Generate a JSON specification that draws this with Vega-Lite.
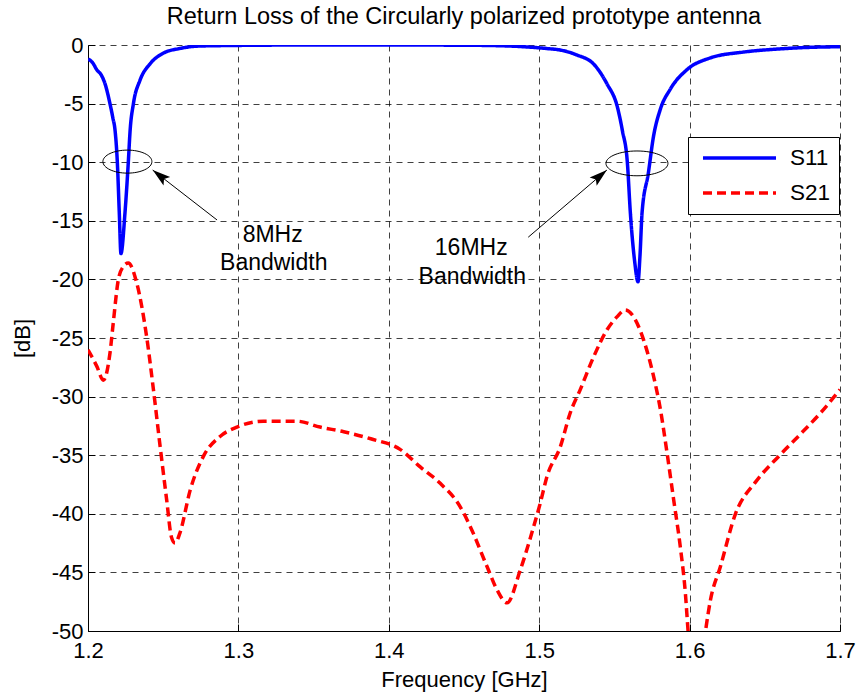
{
  "$schema": "https://vega.github.io/schema/vega-lite/v6.json",
  "width": 752,
  "height": 586,
  "autosize": {"type": "none"},
  "padding": {"left": 88, "top": 45, "right": 20, "bottom": 67},
  "background": "white",
  "title": {
    "text": "Return Loss of the Circularly polarized prototype antenna",
    "font": "Liberation Sans",
    "fontSize": 23.5,
    "fontWeight": "normal",
    "color": "#000",
    "anchor": "middle",
    "offset": 6
  },
  "config": {
    "view": {"stroke": null},
    "axis": {
      "labelFont": "Liberation Sans",
      "titleFont": "Liberation Sans",
      "labelFontSize": 22,
      "titleFontSize": 22,
      "titleFontWeight": "normal",
      "labelColor": "#000",
      "titleColor": "#000",
      "domainColor": "#000",
      "domainWidth": 1,
      "tickColor": "#000",
      "tickSize": -7,
      "grid": true,
      "gridColor": "#000",
      "gridOpacity": 0.75,
      "gridDash": [6, 5],
      "gridWidth": 1,
      "labelFlush": false,
      "labelOverlap": false
    }
  },
  "datasets": {
    "curves": [
      {"f": 1.2, "v": -1.2, "s": "S11"},
      {"f": 1.203, "v": -1.5, "s": "S11"},
      {"f": 1.2058, "v": -2.1, "s": "S11"},
      {"f": 1.209, "v": -2.6, "s": "S11"},
      {"f": 1.2113, "v": -3.3, "s": "S11"},
      {"f": 1.2146, "v": -5.0, "s": "S11"},
      {"f": 1.2165, "v": -6.2, "s": "S11"},
      {"f": 1.218, "v": -7.3, "s": "S11"},
      {"f": 1.2195, "v": -10.0, "s": "S11"},
      {"f": 1.2208, "v": -14.3, "s": "S11"},
      {"f": 1.2219, "v": -17.8, "s": "S11"},
      {"f": 1.2246, "v": -14.3, "s": "S11"},
      {"f": 1.2268, "v": -10.0, "s": "S11"},
      {"f": 1.228, "v": -7.3, "s": "S11"},
      {"f": 1.2302, "v": -5.0, "s": "S11"},
      {"f": 1.2346, "v": -3.0, "s": "S11"},
      {"f": 1.2413, "v": -1.6, "s": "S11"},
      {"f": 1.25, "v": -0.7, "s": "S11"},
      {"f": 1.261, "v": -0.3, "s": "S11"},
      {"f": 1.2725, "v": -0.1, "s": "S11"},
      {"f": 1.29, "v": -0.05, "s": "S11"},
      {"f": 1.35, "v": 0.0, "s": "S11"},
      {"f": 1.4, "v": 0.0, "s": "S11"},
      {"f": 1.45, "v": -0.02, "s": "S11"},
      {"f": 1.47, "v": -0.05, "s": "S11"},
      {"f": 1.49, "v": -0.15, "s": "S11"},
      {"f": 1.505, "v": -0.3, "s": "S11"},
      {"f": 1.514, "v": -0.43, "s": "S11"},
      {"f": 1.525, "v": -0.85, "s": "S11"},
      {"f": 1.536, "v": -1.6, "s": "S11"},
      {"f": 1.545, "v": -3.3, "s": "S11"},
      {"f": 1.552, "v": -5.3, "s": "S11"},
      {"f": 1.5553, "v": -7.3, "s": "S11"},
      {"f": 1.5586, "v": -10.0, "s": "S11"},
      {"f": 1.5606, "v": -14.3, "s": "S11"},
      {"f": 1.5635, "v": -18.5, "s": "S11"},
      {"f": 1.5657, "v": -20.2, "s": "S11"},
      {"f": 1.567, "v": -18.0, "s": "S11"},
      {"f": 1.5684, "v": -14.3, "s": "S11"},
      {"f": 1.5726, "v": -10.9, "s": "S11"},
      {"f": 1.576, "v": -7.8, "s": "S11"},
      {"f": 1.5805, "v": -5.5, "s": "S11"},
      {"f": 1.587, "v": -3.8, "s": "S11"},
      {"f": 1.5983, "v": -2.1, "s": "S11"},
      {"f": 1.6138, "v": -1.1, "s": "S11"},
      {"f": 1.636, "v": -0.6, "s": "S11"},
      {"f": 1.658, "v": -0.35, "s": "S11"},
      {"f": 1.68, "v": -0.2, "s": "S11"},
      {"f": 1.7, "v": -0.15, "s": "S11"},
      {"f": 1.2, "v": -26.0, "s": "S21"},
      {"f": 1.2058, "v": -27.4, "s": "S21"},
      {"f": 1.2102, "v": -28.6, "s": "S21"},
      {"f": 1.2146, "v": -26.3, "s": "S21"},
      {"f": 1.2168, "v": -23.7, "s": "S21"},
      {"f": 1.2202, "v": -20.0, "s": "S21"},
      {"f": 1.2235, "v": -18.9, "s": "S21"},
      {"f": 1.2268, "v": -18.6, "s": "S21"},
      {"f": 1.2324, "v": -20.3, "s": "S21"},
      {"f": 1.239, "v": -24.9, "s": "S21"},
      {"f": 1.2435, "v": -29.4, "s": "S21"},
      {"f": 1.248, "v": -34.3, "s": "S21"},
      {"f": 1.2523, "v": -38.8, "s": "S21"},
      {"f": 1.2555, "v": -42.0, "s": "S21"},
      {"f": 1.2579, "v": -42.5, "s": "S21"},
      {"f": 1.2612, "v": -41.6, "s": "S21"},
      {"f": 1.2679, "v": -38.0, "s": "S21"},
      {"f": 1.2767, "v": -35.1, "s": "S21"},
      {"f": 1.2878, "v": -33.4, "s": "S21"},
      {"f": 1.299, "v": -32.6, "s": "S21"},
      {"f": 1.3166, "v": -32.1, "s": "S21"},
      {"f": 1.3389, "v": -32.1, "s": "S21"},
      {"f": 1.3543, "v": -32.6, "s": "S21"},
      {"f": 1.37, "v": -33.0, "s": "S21"},
      {"f": 1.388, "v": -33.6, "s": "S21"},
      {"f": 1.4075, "v": -34.5, "s": "S21"},
      {"f": 1.4209, "v": -36.0, "s": "S21"},
      {"f": 1.4342, "v": -37.4, "s": "S21"},
      {"f": 1.4475, "v": -39.4, "s": "S21"},
      {"f": 1.4542, "v": -41.1, "s": "S21"},
      {"f": 1.4653, "v": -44.5, "s": "S21"},
      {"f": 1.472, "v": -46.5, "s": "S21"},
      {"f": 1.4786, "v": -47.6, "s": "S21"},
      {"f": 1.4874, "v": -44.8, "s": "S21"},
      {"f": 1.4963, "v": -41.1, "s": "S21"},
      {"f": 1.5007, "v": -39.1, "s": "S21"},
      {"f": 1.5052, "v": -36.8, "s": "S21"},
      {"f": 1.514, "v": -34.3, "s": "S21"},
      {"f": 1.5206, "v": -31.4, "s": "S21"},
      {"f": 1.5273, "v": -29.4, "s": "S21"},
      {"f": 1.5362, "v": -26.6, "s": "S21"},
      {"f": 1.5451, "v": -24.3, "s": "S21"},
      {"f": 1.5517, "v": -23.2, "s": "S21"},
      {"f": 1.5573, "v": -22.6, "s": "S21"},
      {"f": 1.5628, "v": -23.2, "s": "S21"},
      {"f": 1.5695, "v": -25.2, "s": "S21"},
      {"f": 1.5761, "v": -28.3, "s": "S21"},
      {"f": 1.5806, "v": -31.1, "s": "S21"},
      {"f": 1.585, "v": -34.8, "s": "S21"},
      {"f": 1.5894, "v": -38.8, "s": "S21"},
      {"f": 1.5938, "v": -42.8, "s": "S21"},
      {"f": 1.5972, "v": -46.8, "s": "S21"},
      {"f": 1.599, "v": -50.0, "s": "S21"},
      {"f": 1.605, "v": -56.0, "s": "S21"},
      {"f": 1.6106, "v": -50.0, "s": "S21"},
      {"f": 1.6138, "v": -47.4, "s": "S21"},
      {"f": 1.6205, "v": -44.5, "s": "S21"},
      {"f": 1.6305, "v": -40.0, "s": "S21"},
      {"f": 1.6438, "v": -37.3, "s": "S21"},
      {"f": 1.66, "v": -35.0, "s": "S21"},
      {"f": 1.6737, "v": -33.2, "s": "S21"},
      {"f": 1.687, "v": -31.4, "s": "S21"},
      {"f": 1.7, "v": -29.4, "s": "S21"}
    ],
    "labels": [
      {"t": "8MHz", "f": 1.3228, "v": -16.2},
      {"t": "Bandwidth", "f": 1.3235, "v": -18.6},
      {"t": "16MHz", "f": 1.4548, "v": -17.3},
      {"t": "Bandwidth", "f": 1.4555, "v": -19.8}
    ],
    "arrows": [
      {"f": 1.2858, "v": -14.93, "f2": 1.243, "v2": -10.67},
      {"f": 1.4927, "v": -16.4, "f2": 1.545, "v2": -10.67}
    ]
  },
  "layer": [
    {
      "data": {"name": "curves"},
      "mark": {"type": "line", "strokeWidth": 3.5, "clip": true, "interpolate": "monotone"},
      "encoding": {
        "x": {
          "field": "f", "type": "quantitative",
          "scale": {"domain": [1.2, 1.7], "nice": false, "zero": false},
          "axis": {
            "title": "Frequency [GHz]",
            "values": [1.2, 1.3, 1.4, 1.5, 1.6, 1.7],
            "format": ".1f",
            "labelPadding": 16,
            "titlePadding": 8
          }
        },
        "y": {
          "field": "v", "type": "quantitative",
          "scale": {"domain": [-50, 0], "nice": false, "zero": false},
          "axis": {
            "title": "[dB]",
            "values": [-50, -45, -40, -35, -30, -25, -20, -15, -10, -5, 0],
            "labelExpr": "datum.value == 0 ? '0' : '-' + abs(datum.value)",
            "labelPadding": 12,
            "titlePadding": 17
          }
        },
        "color": {
          "field": "s", "type": "nominal",
          "scale": {"domain": ["S11", "S21"], "range": ["#0000FF", "#FF0000"]},
          "legend": {
            "title": null,
            "orient": "none",
            "legendX": 600,
            "legendY": 92,
            "symbolType": "stroke",
            "symbolSize": 5329,
            "symbolStrokeWidth": 3.5,
            "labelFont": "Liberation Sans",
            "labelFontSize": 22.5,
            "labelColor": "#000",
            "strokeColor": "#000",
            "fillColor": "#fff",
            "padding": 8,
            "clipHeight": 26,
            "rowPadding": 9,
            "symbolOffset": 5,
            "labelOffset": 12
          }
        },
        "strokeDash": {
          "field": "s", "type": "nominal",
          "scale": {"domain": ["S11", "S21"], "range": [[1, 0], [9, 5]]}
        }
      }
    },
    {
      "data": {"values": [{"f": 1.2262, "v": -9.95}]},
      "mark": {
        "type": "point",
        "shape": "M-1,0A1,0.47,0,1,0,1,0A1,0.47,0,1,0,-1,0Z",
        "size": 2401,
        "filled": false,
        "stroke": "#000",
        "strokeWidth": 1,
        "opacity": 1
      },
      "encoding": {
        "x": {"field": "f", "type": "quantitative"},
        "y": {"field": "v", "type": "quantitative"}
      }
    },
    {
      "data": {"values": [{"f": 1.565, "v": -10.1}]},
      "mark": {
        "type": "point",
        "shape": "M-1,0A1,0.4,0,1,0,1,0A1,0.4,0,1,0,-1,0Z",
        "size": 3844,
        "filled": false,
        "stroke": "#000",
        "strokeWidth": 1,
        "opacity": 1
      },
      "encoding": {
        "x": {"field": "f", "type": "quantitative"},
        "y": {"field": "v", "type": "quantitative"}
      }
    },
    {
      "data": {"name": "arrows"},
      "mark": {"type": "rule", "color": "#000", "strokeWidth": 1},
      "encoding": {
        "x": {"field": "f", "type": "quantitative"},
        "y": {"field": "v", "type": "quantitative"},
        "x2": {"field": "f2"},
        "y2": {"field": "v2"}
      }
    },
    {
      "data": {"values": [{"f": 1.243, "v": -10.67}]},
      "mark": {
        "type": "point",
        "shape": "M0,0L-0.6,2L0,1.6L0.6,2Z",
        "size": 324,
        "angle": 308,
        "filled": true,
        "color": "#000",
        "opacity": 1
      },
      "encoding": {
        "x": {"field": "f", "type": "quantitative"},
        "y": {"field": "v", "type": "quantitative"}
      }
    },
    {
      "data": {"values": [{"f": 1.545, "v": -10.67}]},
      "mark": {
        "type": "point",
        "shape": "M0,0L-0.6,2L0,1.6L0.6,2Z",
        "size": 324,
        "angle": 49.6,
        "filled": true,
        "color": "#000",
        "opacity": 1
      },
      "encoding": {
        "x": {"field": "f", "type": "quantitative"},
        "y": {"field": "v", "type": "quantitative"}
      }
    },
    {
      "data": {"name": "labels"},
      "mark": {
        "type": "text",
        "font": "Liberation Sans",
        "fontSize": 23,
        "color": "#000",
        "align": "center",
        "baseline": "middle"
      },
      "encoding": {
        "x": {"field": "f", "type": "quantitative"},
        "y": {"field": "v", "type": "quantitative"},
        "text": {"field": "t"}
      }
    }
  ]
}
